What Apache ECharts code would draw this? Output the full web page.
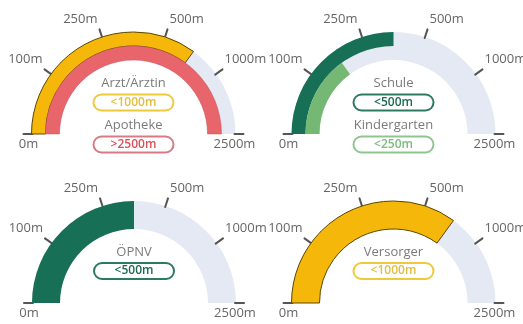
<!DOCTYPE html>
<html>
<head>
<meta charset="utf-8">
<script src="https://cdn.jsdelivr.net/npm/echarts@6/dist/echarts.min.js"></script>
<style>
  html, body { margin: 0; padding: 0; background: #ffffff; }
  #chart { width: 523px; height: 324px; }
</style>
</head>
<body>
<div id="chart"></div>
<script>
// Distance classes shown along every gauge (equal angular steps)
const distanceTicks = ['0m', '100m', '250m', '500m', '1000m', '2500m'];

// Facilities per gauge (outer ring first, then inner ring)
const panelFacilities = [
  ['Arzt/Ärztin', 'Apotheke'],
  ['Schule', 'Kindergarten'],
  ['ÖPNV'],
  ['Versorger']
];

// Reach class of each facility
const panelReach = [
  ['<1000m', '>2500m'],
  ['<500m', '<250m'],
  ['<500m'],
  ['<1000m']
];

// Colour theme of each facility
const panelThemes = [
  ['yellow', 'red'],
  ['darkGreen', 'lightGreen'],
  ['darkGreen'],
  ['yellow']
];

const themes = {
  yellow:     { bar: '#F5B80A', edge: '#5A4800', edgeW: 1,   text: '#E3BE3C', pill: '#F0C93A' },
  red:        { bar: '#E8656B', edge: '#C9545B', edgeW: 0.5, text: '#D9505A', pill: '#D97A83' },
  darkGreen:  { bar: '#176F56', edge: '#176F56', edgeW: 0,   text: '#1B6A51', pill: '#2C7A61' },
  lightGreen: { bar: '#74B874', edge: '#74B874', edgeW: 0,   text: '#7DBB7D', pill: '#8EC78E' }
};

// Layout
const centers = [[133.5, 134], [393.5, 134], [134, 303], [393.5, 303]];
const R_OUT = 102;
const TRACK_W = 28;
const TICK_OUT = 8;   // how far the tick marks reach beyond the arc
const TICK_LEN = 9;
const FONT = '"Open Sans", "Noto Sans", sans-serif';

// '<X' fills up to the middle of the band ending at X, '>X' fills through X
function reachValue(label) {
  const idx = distanceTicks.indexOf(label.slice(1));
  return label[0] === '<' ? idx - 0.5 : idx;
}

const maxVal = distanceTicks.length - 1;
const series = [];
const graphics = [];

panelFacilities.forEach((names, p) => {
  const [cx, cy] = centers[p];
  const ringW = TRACK_W / names.length;
  const single = names.length === 1;

  names.forEach((name, k) => {
    const th = themes[panelThemes[p][k]];
    const titleY = single ? -51 : (k === 0 ? -51 : -9);
    const pillY = single ? -32 : (k === 0 ? -31.5 : 10.5);
    series.push({
      type: 'gauge',
      center: [cx, cy],
      radius: R_OUT - k * ringW,
      startAngle: 180,
      endAngle: 0,
      min: 0,
      max: maxVal,
      splitNumber: maxVal,
      z: 2 + k,
      axisLine: {
        show: k === 0,
        roundCap: false,
        lineStyle: { width: TRACK_W, color: [[1, '#E4E9F4']] }
      },
      progress: {
        show: true,
        width: ringW,
        roundCap: false,
        itemStyle: { color: th.bar, borderColor: th.edge, borderWidth: th.edgeW }
      },
      splitLine: {
        show: k === 0,
        // distance is measured from the inner edge of the axis line
        distance: -(TRACK_W + TICK_OUT),
        length: TICK_LEN,
        lineStyle: { color: '#555', width: 2, cap: 'round' }
      },
      axisTick: { show: false },
      axisLabel: { show: false },
      pointer: { show: false },
      anchor: { show: false },
      title: {
        offsetCenter: [0, titleY],
        fontSize: 13,
        color: '#7a7a7a',
        fontFamily: FONT
      },
      detail: {
        offsetCenter: [0, pillY],
        valueAnimation: false,
        formatter: () => panelReach[p][k],
        fontSize: 12,
        fontWeight: 600,
        fontFamily: FONT,
        color: th.text,
        backgroundColor: '#ffffff',
        borderColor: th.pill,
        borderWidth: 2,
        borderRadius: 9,
        width: 70,
        height: 12,
        lineHeight: 13,
        padding: [1, 4]
      },
      animation: false,
      data: [{ value: reachValue(panelReach[p][k]), name: name }]
    });
  });

  // distance labels around the arc, placed just past the outer end of each tick
  const tickEndR = R_OUT + TICK_OUT;
  distanceTicks.forEach((t, i) => {
    const ang = Math.PI - i * Math.PI / maxVal;
    let x, y, align, vAlign;
    if (i === 0 || i === maxVal) {
      x = cx + (i === 0 ? -105 : 101);
      y = cy + 4;
      align = 'center';
      vAlign = 'top';
    } else {
      const left = Math.cos(ang) < 0;
      x = cx + tickEndR * Math.cos(ang) + (left ? -2 : 2);
      y = cy - tickEndR * Math.sin(ang) - 4;
      align = left ? 'right' : 'left';
      vAlign = 'bottom';
    }
    graphics.push({
      type: 'text',
      x: x,
      y: y,
      z: 10,
      style: {
        text: t,
        fill: '#666666',
        font: '13px ' + FONT,
        align: align,
        verticalAlign: vAlign
      }
    });
  });
});

const chart = echarts.init(document.getElementById('chart'), null, { renderer: 'canvas' });
chart.setOption({
  backgroundColor: '#ffffff',
  animation: false,
  series: series,
  graphic: graphics
});
</script>
</body>
</html>
